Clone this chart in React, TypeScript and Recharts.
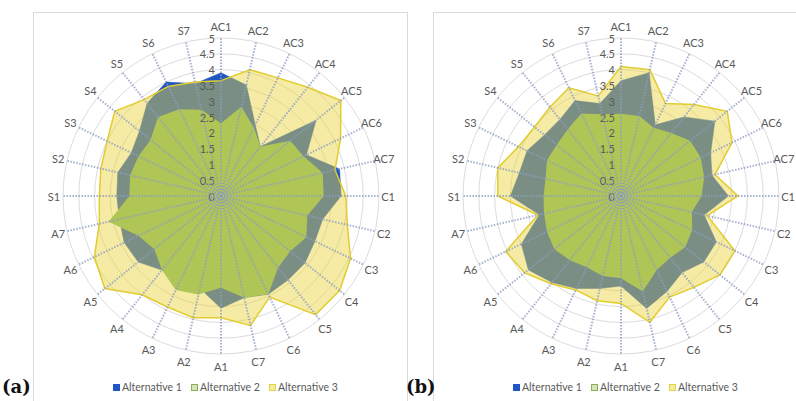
import React from "react"
import {
  RadarChart,
  Radar,
  PolarGrid,
  PolarAngleAxis,
  PolarRadiusAxis,
} from "recharts"

const categories = [
  "AC1", "AC2", "AC3", "AC4", "AC5", "AC6", "AC7",
  "C1", "C2", "C3", "C4", "C5", "C6", "C7",
  "A1", "A2", "A3", "A4", "A5", "A6", "A7",
  "S1", "S2", "S3", "S4", "S5", "S6", "S7",
]

const radiusTicks = [0, 0.5, 1, 1.5, 2, 2.5, 3, 3.5, 4, 4.5, 5]

const seriesNames = ["Alternative 1", "Alternative 2", "Alternative 3"]

// panel (a)
const altA1 = [3.9, 3.6, 2.5, 2.0, 3.85, 3.0, 3.85, 3.8, 3.3, 3.3, 3.4, 3.4, 3.45, 3.3, 3.55, 3.0, 3.0, 3.0, 3.35, 3.4, 3.3, 3.3, 3.35, 3.15, 3.3, 3.75, 4.0, 3.65]
const altA2 = [2.3, 2.9, 2.4, 2.0, 2.8, 2.9, 3.3, 3.25, 2.8, 3.0, 2.8, 2.9, 3.45, 3.3, 2.9, 3.2, 3.3, 3.0, 2.7, 2.9, 3.65, 2.9, 2.95, 2.9, 2.85, 3.2, 3.05, 2.8]
const altA3 = [3.65, 4.1, 4.15, 4.4, 4.85, 4.2, 3.7, 3.95, 4.1, 4.55, 4.8, 4.8, 3.55, 4.2, 3.85, 3.95, 3.9, 4.0, 4.7, 4.45, 3.95, 3.85, 3.9, 4.0, 4.3, 3.9, 3.85, 3.7]

// panel (b)
const altB1 = [3.65, 4.0, 2.5, 3.2, 3.8, 3.15, 2.95, 3.4, 2.7, 3.35, 3.35, 3.1, 3.35, 3.65, 2.85, 3.0, 3.25, 3.5, 3.75, 3.5, 2.65, 3.5, 3.3, 3.3, 3.1, 3.1, 3.35, 3.0]
const altB2 = [2.6, 2.6, 2.4, 2.55, 2.8, 2.8, 2.7, 2.55, 2.3, 2.5, 2.6, 2.5, 2.6, 3.1, 2.6, 2.6, 2.5, 2.6, 2.7, 2.6, 2.5, 2.45, 2.45, 2.6, 2.6, 2.7, 2.9, 2.65]
const altB3 = [4.1, 4.1, 3.25, 3.7, 4.3, 3.9, 3.05, 3.7, 2.8, 4.0, 4.0, 3.7, 3.55, 4.1, 3.4, 3.4, 3.3, 3.55, 3.9, 4.05, 2.7, 3.9, 4.0, 3.6, 3.5, 3.6, 3.8, 3.25]

const FONT = "Lato, 'Open Sans', sans-serif"
const TEXT = "#595959"

const BLUE = "#1f56c2"
const GREEN = "#80ba6e"
const YELLOW = "#e9d338"

function buildRows(a1: number[], a2: number[], a3: number[]) {
  return categories.map((c, i) => ({ category: c, alt1: a1[i], alt2: a2[i], alt3: a3[i] }))
}

function RadiusTick(props: any) {
  const { x, y, payload } = props
  return (
    <text x={x - 6} y={y} textAnchor="end" dominantBaseline="central" fontSize={11} fill={TEXT} fontFamily={FONT}>
      {payload.value}
    </text>
  )
}

// label centre sits a little beyond the default tick point
function AngleTick(props: any) {
  const { x, y, payload } = props
  const rad = (payload.coordinate * Math.PI) / 180
  const tx = x + 1 * Math.cos(rad)
  const ty = y - 4 * Math.sin(rad)
  return (
    <text x={tx} y={ty} textAnchor="middle" dominantBaseline="central" fontSize={11} fill={TEXT} fontFamily={FONT}>
      {payload.value}
    </text>
  )
}

function LegendRow() {
  const items = [
    { name: seriesNames[0], bg: BLUE, border: BLUE },
    { name: seriesNames[1], bg: "#d5e4b8", border: "#8fae5a" },
    { name: seriesNames[2], bg: "#f4ec9a", border: "#e2d44a" },
  ]
  return (
    <div
      style={{
        position: "absolute",
        left: 79,
        top: 368,
        display: "flex",
        fontFamily: FONT,
        fontSize: 10.5,
        color: TEXT,
        whiteSpace: "nowrap",
      }}
    >
      {items.map((it) => (
        <div key={it.name} style={{ width: 78, display: "flex", alignItems: "center" }}>
          <span
            style={{
              display: "inline-block",
              width: 5,
              height: 5,
              background: it.bg,
              border: `1px solid ${it.border}`,
              marginRight: 2,
            }}
          />
          {it.name}
        </div>
      ))}
    </div>
  )
}

function RadarPanel({ rows, left, label, labelLeft }: { rows: any[]; left: number; label: string; labelLeft: number }) {
  return (
    <>
      <div
        style={{
          position: "absolute",
          left,
          top: 12,
          width: 375,
          height: 400,
          border: "1px solid #d9d9d9",
          boxSizing: "border-box",
        }}
      >
        <RadarChart width={375} height={389} data={rows} cx={187} cy={183} outerRadius={158} margin={{ top: 0, right: 0, bottom: 0, left: 0 }}>
          <PolarGrid gridType="circle" radialLines={false} stroke="#dcdcdc" strokeWidth={1} />
          <PolarAngleAxis dataKey="category" tick={<AngleTick />} tickLine={false} axisLine={false} />
          <PolarRadiusAxis
            angle={90}
            domain={[0, 5]}
            ticks={radiusTicks as any}
            tick={<RadiusTick />}
            axisLine={false}
            tickLine={false}
          />
          <Radar name={seriesNames[0]} dataKey="alt1" fill={BLUE} fillOpacity={1} stroke={BLUE} strokeWidth={0.5} isAnimationActive={false} />
          <Radar name={seriesNames[1]} dataKey="alt2" fill={GREEN} fillOpacity={1} stroke="none" isAnimationActive={false} />
          <Radar name={seriesNames[2]} dataKey="alt3" fill={YELLOW} fillOpacity={0.45} stroke="#e2cc2e" strokeWidth={1.5} isAnimationActive={false} />
          <PolarGrid {...({ zIndex: 500 } as any)} gridType="circle" polarRadius={[]} stroke="#8f9dc0" strokeOpacity={0.8} strokeWidth={2} strokeDasharray="1.5 1.5" />
        </RadarChart>
        <LegendRow />
      </div>
      <div
        style={{
          position: "absolute",
          left: labelLeft,
          top: 376,
          fontFamily: "'DejaVu Serif', 'Liberation Serif', serif",
          fontWeight: "bold",
          fontSize: 18,
          color: "#111",
        }}
      >
        {label}
      </div>
    </>
  )
}

export default function App() {
  const rowsA = buildRows(altA1, altA2, altA3)
  const rowsB = buildRows(altB1, altB2, altB3)
  return (
    <div style={{ position: "absolute", left: 0, top: 0, width: 796, height: 401, overflow: "hidden", background: "#fff" }}>
      <RadarPanel rows={rowsA} left={33} label="(a)" labelLeft={2} />
      <RadarPanel rows={rowsB} left={433} label="(b)" labelLeft={406} />
    </div>
  )
}
